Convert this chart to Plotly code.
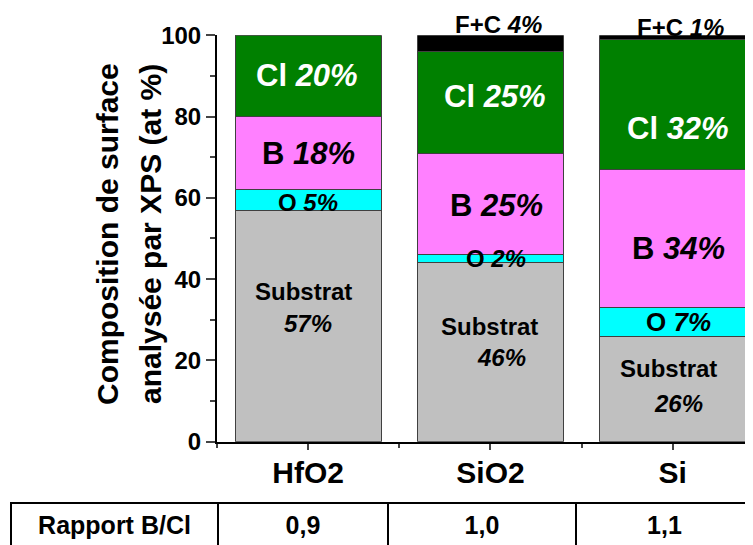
import plotly.graph_objects as go

# --- data --------------------------------------------------------------------
categories = ["HfO2", "SiO2", "Si"]
substrat = [57, 44, 26]
oxygen = [5, 2, 7]
boron = [18, 25, 34]
chlorine = [20, 25, 32]
fluor_carbon = [None, 4, 1]
substrat_label = [57, 46, 26]   # value printed on the figure
rapport_bcl = ["0,9", "1,0", "1,1"]

FONT = "Liberation Sans, Arial, sans-serif"
# the page puts the figure 8px in from the top-left corner
OFF = 8
W, H = 753 - OFF, 545 - OFF


def px_x(v):
    return (v - OFF) / W


def px_y(v):
    return (H - (v - OFF)) / H


x = list(range(len(categories)))

series = [
    ("Substrat", substrat, "#C0C0C0"),
    ("O", oxygen, "#00FFFF"),
    ("B", boron, "#FF80FF"),
    ("Cl", chlorine, "#008000"),
    ("F+C", fluor_carbon, "#000000"),
]

fig = go.Figure()
for name, vals, color in series:
    fig.add_trace(go.Bar(
        x=x, y=vals, name=name, width=0.8,
        marker=dict(color=color, line=dict(color="#404040", width=1)),
        showlegend=False, hoverinfo="y+name",
    ))

# --- segment labels ----------------------------------------------------------
# label placement tweaks: vertical nudge (data units) from segment middle,
# horizontal shift (px) per bar
nudge = {
    "Substrat": [8.4, 6.3, 5.1],
    "pct": [0.7, -1.4, -3.5],
    "O": [-0.7, 0, 0],
    "B": [0, -0.3, -2.4],
    "Cl": [0, 1.5, -5.9],
}
shift = [0, 6, 6]
big = 31


def ann(xv, yv, text, size, color="black", xshift=0, yshift=0):
    fig.add_annotation(x=xv, y=yv, xref="x", yref="y", text=text, showarrow=False,
                       xshift=xshift, yshift=yshift,
                       font=dict(family=FONT, size=size, color=color))


for i in x:
    s = substrat[i]
    ann(i, s / 2 + nudge["Substrat"][i], "<b>Substrat</b>", 24, xshift=[-5, -1, -4][i])
    ann(i, s / 2 + nudge["pct"][i], f"<b><i>{substrat_label[i]}%</i></b>", 24,
        xshift=[0, 11, 6][i])
    base = s
    o = oxygen[i]
    ann(i, base + o / 2 + nudge["O"][i], f"<b>O <i>{o}%</i></b>",
        24 if o < 7 else 26, xshift=shift[i])
    base += o
    b = boron[i]
    ann(i, base + b / 2 + nudge["B"][i], f"<b>B <i>{b}%</i></b>", big, xshift=shift[i])
    base += b
    c = chlorine[i]
    ann(i, base + c / 2 + nudge["Cl"][i], f"<b>Cl <i>{c}%</i></b>", big,
        color="white", xshift=shift[i] - 1)
    base += c
    fc = fluor_carbon[i]
    if fc:
        ann(i, base + fc, f"<b>F+C <i>{fc}%</i></b>", 24,
            xshift=shift[i] + 2, yshift=[0, 11, 8][i])

# --- y axis title (two lines) -------------------------------------------------
for txt, xp in [("Composition de surface", 107), ("analysée par XPS (at %)", 150)]:
    fig.add_annotation(x=px_x(xp), y=px_y(234), xref="paper", yref="paper",
                       xanchor="center", yanchor="middle",
                       text=f"<b>{txt}</b>", textangle=-90, showarrow=False,
                       font=dict(family=FONT, size=30, color="black"))

# --- table under the chart ----------------------------------------------------
fig.add_trace(go.Table(
    domain=dict(x=[px_x(11), 1], y=[0, px_y(503)]),
    columnwidth=[207, 170, 188, 177],
    header=dict(
        values=["<b>Rapport B/Cl</b>"] + [f"<b>{v}</b>" for v in rapport_bcl],
        height=42, align="center", fill_color="white",
        line=dict(color="black", width=2),
        font=dict(family=FONT, size=25, color="black"),
    ),
    cells=dict(values=[[], [], [], []], line=dict(color="black", width=2)),
))

fig.update_layout(
    width=W, height=H,
    barmode="stack",
    paper_bgcolor="white", plot_bgcolor="white",
    margin=dict(l=0, r=0, t=0, b=0, autoexpand=False),
    font=dict(family=FONT, color="black"),
    xaxis=dict(
        domain=[px_x(217), 1], range=[-0.5, 2.44],
        tickvals=x, ticktext=[f"<b>{c}</b>" for c in categories],
        tickfont=dict(size=30), ticks="outside", ticklen=6, tickwidth=2,
        showline=True, linecolor="black", linewidth=2, showgrid=False,
        zeroline=False, ticklabelstandoff=-3,
        minor=dict(tick0=0, dtick=0.5, ticks="outside", ticklen=4, tickwidth=2),
    ),
    yaxis=dict(
        domain=[px_y(441.7), px_y(35.2)], range=[0, 100],
        tickvals=[0, 20, 40, 60, 80, 100],
        ticktext=[f"<b>{v}</b>" for v in [0, 20, 40, 60, 80, 100]],
        tickfont=dict(size=24), ticks="outside", ticklen=9, tickwidth=2,
        showline=True, linecolor="black", linewidth=2, showgrid=False,
        zeroline=False,
        minor=dict(dtick=10, ticks="outside", ticklen=5, tickwidth=2),
    ),
)

fig.write_html("out.html")
